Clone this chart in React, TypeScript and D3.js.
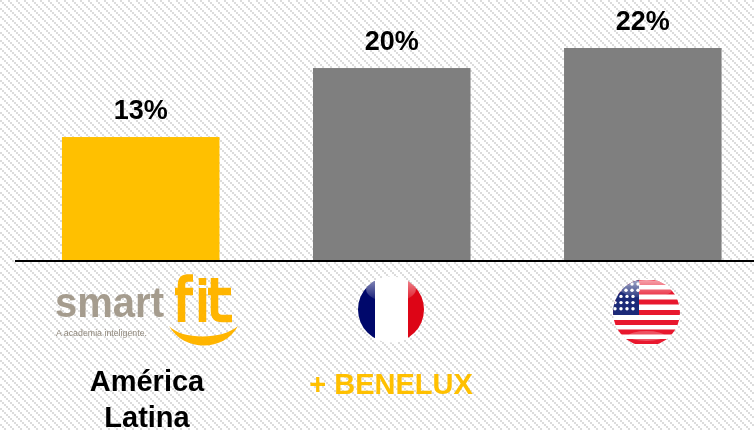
import React from "react";
import * as d3 from "d3";

const categories = ["América Latina", "+ BENELUX", "EUA"];
const values = [12.76, 19.92, 22];
const labels = ["13%", "20%", "22%"];
const barColors = ["#FFC000", "#7F7F7F", "#7F7F7F"];
const starRows = [
  [-13, -7, -1],
  [-19, -13, -7, -1],
  [-24, -18, -12, -6],
  [-24, -18, -12, -6],
  [-24, -18, -12, -6],
];
const usaStripes = [280, 289.5, 299.5, 310, 320, 329.5, 339];

const F = "Arial, 'Liberation Sans', sans-serif";
const GOLD = "#FFB500";
const TAUPE = "#A59C8E";

export default function App() {
  const x = d3.scaleBand().domain(categories).range([15, 768.5]).paddingInner(0.3725).paddingOuter(0.187);
  const y = d3.scaleLinear().domain([0, 22]).range([260, 48]);
  const cx = (c: string) => x(c)! + x.bandwidth() / 2;
  return (
    <svg width={754} height={430} style={{ position: "fixed", left: 0, top: 0, display: "block" }} fontFamily={F}>
      <defs>
        <pattern id="hatch" width={8} height={8} patternUnits="userSpaceOnUse">
          <rect width={8} height={8} fill="#ffffff" />
          {[0, 2, 4, 6].map((p) => (
            <rect key={p} x={p} y={p} width={2} height={2} fill="#dcdcdc" />
          ))}
        </pattern>
        <clipPath id="fr"><circle cx={391} cy={309.5} r={33} /></clipPath>
        <clipPath id="us"><circle cx={646.5} cy={312.5} r={33.5} /></clipPath>
        <linearGradient id="gloss" x1="0" y1="0" x2="0" y2="1">
          <stop offset="0" stopColor="#fff" stopOpacity={0.6} />
          <stop offset="1" stopColor="#fff" stopOpacity={0.05} />
        </linearGradient>
      </defs>
      <rect width={754} height={430} fill="url(#hatch)" />

      {categories.map((c, i) => (
        <g key={c}>
          <rect x={x(c)} y={y(values[i])} width={x.bandwidth()} height={260 - y(values[i])} fill={barColors[i]} />
          <text x={cx(c)} y={y(values[i]) - 18} textAnchor="middle" fontSize={27} fontWeight={700} fill="#000">{labels[i]}</text>
        </g>
      ))}
      <line x1={15} x2={754} y1={261} y2={261} stroke="#000" strokeWidth={2} />

      {/* smart fit logo */}
      <text x={55} y={316.5} fontSize={42} fontWeight={700} fill={TAUPE} textLength={109} lengthAdjust="spacingAndGlyphs">smart</text>
      <text x={56} y={336} fontSize={8.5} fill="#8f877b" textLength={91} lengthAdjust="spacingAndGlyphs">A academia inteligente.</text>
      <g fill="none" stroke={GOLD} strokeWidth={7.5}>
        <path d="M181.5,322 V285 Q181.5,278 188,278 H193" />
        <path d="M175,291.5 H193" />
        <path d="M202.5,288 V322" />
        <path d="M202.5,278 V285" />
        <path d="M214.5,278 V311 Q214.5,318.5 222,318.5 H232" />
        <path d="M208,291.5 H231" />
      </g>
      <path d="M169,326 C182,340 222,340 238,326 C224,352 184,352 169,326 Z" fill={GOLD} />

      {/* France flag */}
      <g clipPath="url(#fr)">
        <rect x={358} y={276} width={17} height={67} fill="#00086B" />
        <rect x={375} y={276} width={33} height={67} fill="#ffffff" />
        <rect x={408} y={276} width={17} height={67} fill="#DD0516" />
        <ellipse cx={391} cy={289} rx={25} ry={13} fill="url(#gloss)" />
      </g>

      {/* USA flag */}
      <g clipPath="url(#us)">
        <rect x={612} y={279} width={69} height={68} fill="#ffffff" />
        {usaStripes.map((s) => (
          <rect key={s} x={612} y={s} width={69} height={5} fill="#E8182E" />
        ))}
        <rect x={612} y={279} width={27} height={36} fill="#1C2A78" />
        {starRows.map((r, ri) =>
          r.map((dx) => <circle key={`${ri}-${dx}`} cx={639 + dx} cy={284 + ri * 6.2} r={1.7} fill="#fff" />)
        )}
        <ellipse cx={646.5} cy={289} rx={26} ry={9} fill="url(#gloss)" />
        <ellipse cx={646.5} cy={336} rx={18} ry={5} fill="#fff" opacity={0.25} />
      </g>

      <g fontSize={29} fontWeight={700} textAnchor="middle">
        <text x={147} y={391} fill="#000">América</text>
        <text x={147} y={427} fill="#000">Latina</text>
        <text x={391} y={394} fill="#FFC000">{categories[1]}</text>
      </g>
    </svg>
  );
}
